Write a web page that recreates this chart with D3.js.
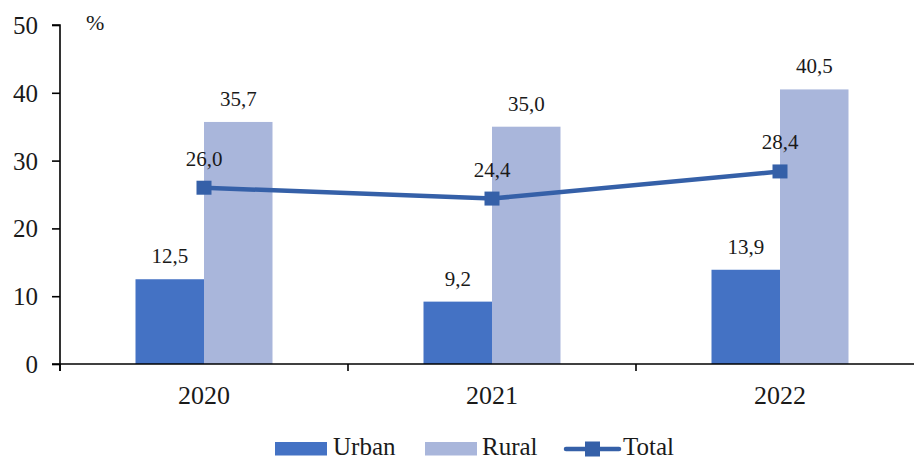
<!DOCTYPE html>
<html><head><meta charset="utf-8">
<script src="https://cdn.jsdelivr.net/npm/d3@7"></script>
<style>body{margin:0;background:#fff}svg{display:block}text{font-family:"Liberation Serif","Times New Roman",serif;fill:#1a1a1a}</style>
</head><body><svg id="c" width="914" height="460"></svg>
<script>
const categories = ["2020","2021","2022"];
const urban = [12.5, 9.2, 13.9];
const rural = [35.7, 35.0, 40.5];
const total = [26.0, 24.4, 28.4];
const yTicks = [0,10,20,30,40,50];
const seriesNames = ["Urban","Rural","Total"];
const colors = {Urban:"#4472C4", Rural:"#A9B6DB", Total:"#3560A8"};

const svg = d3.select("#c");
const x = d3.scaleBand().domain(categories).range([60, 924]).paddingInner(0).paddingOuter(0);
const y = d3.scaleLinear().domain([0,50]).range([364, 25]);
const bw = 68.5;
const fmt = v => d3.format(".1f")(v).replace(".", ",");
const cx = c => x(c) + x.bandwidth()/2;

// bars
const g = svg.append("g");
g.selectAll(".u").data(categories).enter().append("rect")
  .attr("x", c => cx(c) - bw).attr("width", bw)
  .attr("y", (c,i) => y(urban[i])).attr("height", (c,i) => y(0) - y(urban[i]))
  .attr("fill", colors.Urban);
g.selectAll(".r").data(categories).enter().append("rect")
  .attr("x", c => cx(c)).attr("width", bw)
  .attr("y", (c,i) => y(rural[i])).attr("height", (c,i) => y(0) - y(rural[i]))
  .attr("fill", colors.Rural);

// axes
const yAxis = d3.axisLeft(y).tickValues(yTicks).tickSize(8).tickPadding(14).tickFormat(d3.format("d"));
const ya = svg.append("g").attr("transform","translate(60,0)").call(yAxis);
ya.select(".domain").attr("stroke","#000").attr("stroke-width",1.6).attr("d","M-8,25H0V371");
ya.selectAll(".tick line").attr("stroke","#000").attr("stroke-width",1.6);
ya.selectAll(".tick text").attr("font-size",25).attr("fill","#1a1a1a").attr("dy","0.34em");

const xa = svg.append("g").attr("transform","translate(0,364)");
xa.append("line").attr("x1",52).attr("x2",914).attr("y1",0).attr("y2",0).attr("stroke","#000").attr("stroke-width",1.6);
const bounds = [x.range()[0]].concat(categories.slice(1).map(c => x(c)));
xa.selectAll(".tk").data(bounds).enter().append("line")
  .attr("x1",d=>d).attr("x2",d=>d).attr("y1",0).attr("y2",7).attr("stroke","#000").attr("stroke-width",1.6);
xa.selectAll(".tl").data(categories).enter().append("text")
  .attr("x", c => cx(c)).attr("y", 40).attr("text-anchor","middle").attr("font-size",26).text(c=>c);

svg.append("text").attr("x",86).attr("y",30).attr("font-size",22).text("%");

// line
const line = d3.line().x((d,i)=>cx(categories[i])).y(d=>y(d));
svg.append("path").datum(total).attr("d", line).attr("fill","none").attr("stroke",colors.Total).attr("stroke-width",4.5);
svg.selectAll(".m").data(total).enter().append("rect")
  .attr("x",(d,i)=>cx(categories[i])-7.5).attr("y",d=>y(d)-7).attr("width",15).attr("height",14).attr("fill",colors.Total);

// labels
const lf = 21;
svg.selectAll(".ul").data(urban).enter().append("text")
  .attr("x",(d,i)=>cx(categories[i]) - bw/2).attr("y",d=>y(d)-16).attr("text-anchor","middle").attr("font-size",lf).text(fmt);
svg.selectAll(".rl").data(rural).enter().append("text")
  .attr("x",(d,i)=>cx(categories[i]) + bw/2).attr("y",d=>y(d)-16).attr("text-anchor","middle").attr("font-size",lf).text(fmt);
svg.selectAll(".tl2").data(total).enter().append("text")
  .attr("x",(d,i)=>cx(categories[i])).attr("y",d=>y(d)-22).attr("text-anchor","middle").attr("font-size",lf).text(fmt);

// legend
const lg = svg.append("g");
lg.append("rect").attr("x",275).attr("y",442).attr("width",52).attr("height",13.5).attr("fill",colors.Urban);
lg.append("text").attr("x",333).attr("y",454.5).attr("font-size",25).text(seriesNames[0]);
lg.append("rect").attr("x",425).attr("y",442).attr("width",52).attr("height",13.5).attr("fill",colors.Rural);
lg.append("text").attr("x",482).attr("y",454.5).attr("font-size",25).text(seriesNames[1]);
lg.append("line").attr("x1",566).attr("x2",619).attr("y1",449).attr("y2",449).attr("stroke",colors.Total).attr("stroke-width",4.5).attr("stroke-linecap","round");
lg.append("rect").attr("x",585).attr("y",441.5).attr("width",15).attr("height",15).attr("fill",colors.Total);
lg.append("text").attr("x",623).attr("y",454.5).attr("font-size",25).text(seriesNames[2]);
</script></body></html>
